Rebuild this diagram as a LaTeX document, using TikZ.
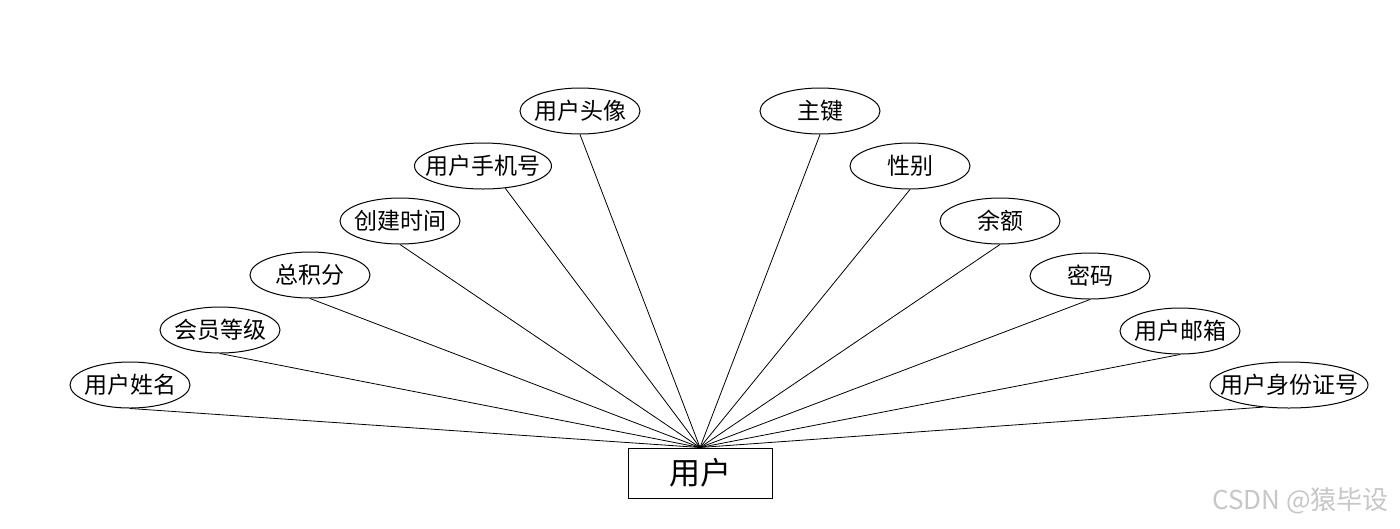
\documentclass[tikz,border=0pt]{standalone}
\usepackage{fontspec}
\newfontfamily\cjk{Noto Sans CJK SC}
\usetikzlibrary{shapes.geometric}
\newcommand{\zw}[1]{\makebox[0pt][c]{#1}}
\begin{document}
\begin{tikzpicture}[x=1pt,y=-1pt,
  attr/.style={ellipse,draw,line width=1pt,inner sep=0pt,minimum width=120,minimum height=46,
    font=\cjk\fontsize{23}{23}\selectfont},
  ent/.style={rectangle,draw,line width=1pt,inner sep=0pt,minimum width=144,minimum height=50,
    font=\cjk\fontsize{31}{31}\selectfont},
  link/.style={line width=0.8pt}]
\useasboundingbox (0,0) rectangle (1400,528);
\fill[white] (0,0) rectangle (1400,528);
\node[ent] (user) at (700,473) {用户};
\node[attr] (a1) at (130,385) {\zw{用户姓名}};
\node[attr] (a2) at (220,330) {\zw{会员等级}};
\node[attr] (a3) at (310,275) {\zw{总积分}};
\node[attr] (a4) at (400,221) {\zw{创建时间}};
\node[attr,minimum width=137] (a5) at (483,166) {\zw{用户手机号}};
\node[attr] (a6) at (580,111) {\zw{用户头像}};
\node[attr] (b1) at (820,111) {\zw{主键}};
\node[attr] (b2) at (910,166) {\zw{性别}};
\node[attr] (b3) at (1000,221) {\zw{余额}};
\node[attr] (b4) at (1090,276) {\zw{密码}};
\node[attr] (b5) at (1180,331) {\zw{用户邮箱}};
\node[attr,minimum width=158] (b6) at (1289,385) {\zw{用户身份证号}};
\foreach \n in {a1,a2,a3,a4,a6,b1,b2,b3,b4,b5}
  \draw[link] (\n.south) -- (user.north);
\draw[link] (a5.-45) -- (user.north);
\draw[link] (b6.-140) -- (user.north);
\node[anchor=west,text=black!22,font=\cjk\fontsize{26}{26}\selectfont,inner sep=0pt] (wm) at (1212,501) {CSDN @猿毕设};
\end{tikzpicture}
\end{document}
